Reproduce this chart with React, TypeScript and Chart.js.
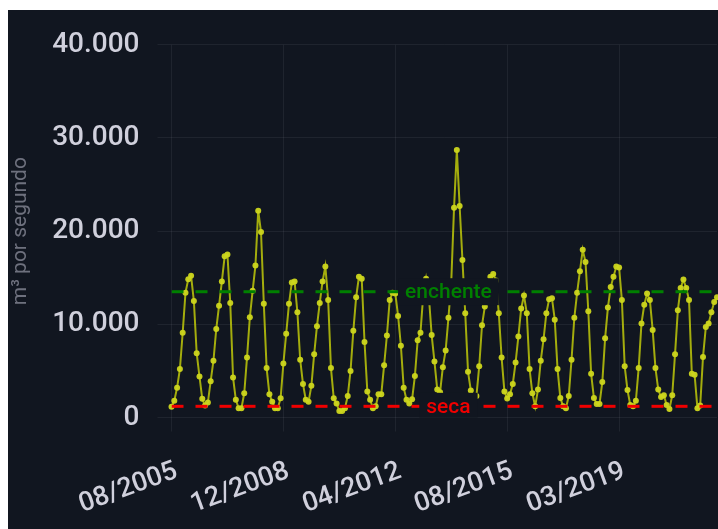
import React, { useEffect, useRef } from "react";
import { Chart, registerables } from "chart.js";

Chart.register(...registerables);

// ---------- data ----------
const START_YEAR = 2005;
const START_MONTH = 8;
const SKIPPED_MONTHS = ["06/2017", "07/2017", "08/2017"];
const POINT_COUNT = 196;
const TICK_LABELS = ["08/2005", "12/2008", "04/2012", "08/2015", "03/2019"];

const FLOW = [
  1160, 1800, 3200, 5200, 9100, 13400, 14850, 15200, 12500, 6900, 4400, 2000,
  1300, 1600, 3900, 6100, 9500, 12000, 14600, 17300, 17500, 12300, 4300, 1900,
  1000, 1000, 2600, 6450, 10750, 13600, 16300, 22200, 19900, 12200, 5300, 2500,
  1700, 1000, 1000, 2060, 5800, 9000, 12200, 14500, 14600, 11300, 6200, 3600,
  1900, 1700, 3400, 6800, 9800, 12300, 14600, 16200, 12600, 5300, 2060, 1500,
  700, 700, 1000, 2300, 5000, 9300, 12900, 15100, 14900, 8100, 2800, 1900,
  1000, 1200, 2500, 2500, 5600, 8800, 12600, 13400, 13300, 10900, 7700, 3200,
  1900, 1500, 1950, 4450, 8300, 9100, 13200, 14900, 13000, 8850, 6000, 3000,
  2700, 5400, 7200, 10700, 14500, 22500, 28700, 22700, 16900, 11200, 4900, 2900,
  2200, 2300, 5500, 9900, 11900, 14000, 15100, 15400, 14700, 11200, 6450, 2800,
  2050, 2500, 3600, 5900, 8700, 11700, 13100, 11200, 5200, 2600, 1200, 3000,
  6100, 8400, 11200, 12700, 12800, 10500, 5200, 2100, 1200, 1000, 2300, 6200,
  10700, 13400, 15700, 18000, 16700, 11400, 4700, 2100, 1450, 1450, 3800, 8500,
  11800, 14000, 15100, 16200, 16100, 12600, 5500, 2950, 1340, 1200, 1800, 5300,
  10100, 12100, 13300, 12600, 9400, 5300, 3000, 2200, 2400, 1340, 900, 2400,
  6800, 11500, 13900, 14800, 13900, 12600, 4700, 4600, 1000, 1300, 6500, 9700,
  10100, 11300, 12400, 12900,
];

const Y_MIN = 0;
const Y_MAX = 40000;
const Y_STEP = 10000;
const Y_TITLE = "m³ por segundo";

const FLOOD_LEVEL = 13500;
const FLOOD_LABEL = "enchente";
const DROUGHT_LEVEL = 1200;
const DROUGHT_LABEL = "seca";
const THRESHOLD_LABEL_INDEX = 99;

// ---------- style ----------
const BG = "#111620";
const TEXT = "#d0d0dc";
const GRID = "rgba(204,204,220,0.08)";
const LINE = "rgba(190,200,10,0.85)";
const POINT = "rgba(205,214,30,0.95)";
const GREEN = "rgb(0,128,0)";
const RED = "rgb(240,0,0)";

function buildMonths(): string[] {
  const out: string[] = [];
  let y = START_YEAR;
  let m = START_MONTH;
  while (out.length < POINT_COUNT) {
    const label = String(m).padStart(2, "0") + "/" + y;
    if (!SKIPPED_MONTHS.includes(label)) out.push(label);
    m++;
    if (m > 12) {
      m = 1;
      y++;
    }
  }
  return out;
}

const MONTHS = buildMonths();

function fmt(v: number): string {
  return String(Math.round(v)).replace(/\B(?=(\d{3})+(?!\d))/g, ".");
}

const thresholds = [
  { value: FLOOD_LEVEL, label: FLOOD_LABEL, color: GREEN },
  { value: DROUGHT_LEVEL, label: DROUGHT_LABEL, color: RED },
];

const thresholdPlugin = {
  id: "thresholds",
  afterDatasetsDraw(chart: any) {
    const { ctx, chartArea, scales } = chart;
    const xs = scales.x;
    const ys = scales.y;
    ctx.save();
    ctx.beginPath();
    ctx.rect(chartArea.left, chartArea.top, chartArea.right - chartArea.left, chartArea.bottom - chartArea.top);
    ctx.clip();
    ctx.lineWidth = 3;
    ctx.setLineDash([12, 12]);
    for (const t of thresholds) {
      const y = ys.getPixelForValue(t.value);
      ctx.strokeStyle = t.color;
      ctx.beginPath();
      ctx.moveTo(chartArea.left, y);
      ctx.lineTo(chartArea.right, y);
      ctx.stroke();
    }
    ctx.setLineDash([]);
    ctx.font = "500 21px Roboto";
    ctx.textAlign = "center";
    ctx.textBaseline = "middle";
    for (const t of thresholds) {
      const y = ys.getPixelForValue(t.value);
      const cx = xs.getPixelForValue(THRESHOLD_LABEL_INDEX);
      const w = ctx.measureText(t.label).width;
      ctx.fillStyle = BG;
      ctx.fillRect(cx - w / 2 - 7, y - 13.5, w + 14, 27);
      ctx.fillStyle = t.color;
      ctx.fillText(t.label, cx, y + 1);
    }
    ctx.restore();
  },
};

export default function App() {
  const ref = useRef<HTMLCanvasElement | null>(null);

  useEffect(() => {
    if (!ref.current) return;
    Chart.defaults.font.family = "Roboto";
    const chart = new Chart(ref.current, {
      type: "line",
      data: {
        labels: MONTHS,
        datasets: [
          {
            data: FLOW,
            borderColor: LINE,
            borderWidth: 2,
            pointRadius: 3,
            pointBackgroundColor: POINT,
            pointBorderColor: POINT,
            pointBorderWidth: 0,
            tension: 0,
          },
        ],
      },
      options: {
        responsive: false,
        animation: false,
        devicePixelRatio: 1,
        layout: { padding: { top: 34.5, right: 1, left: 0, bottom: 0 } },
        plugins: { legend: { display: false }, tooltip: { enabled: false } },
        scales: {
          x: {
            type: "category",
            grid: { color: GRID, tickLength: 14, drawTicks: true },
            border: { display: false },
            ticks: {
              autoSkip: false,
              minRotation: 20,
              maxRotation: 20,
              padding: 24,
              labelOffset: 5,
              color: TEXT,
              font: { size: 27, weight: "500" },
              callback: function (this: any, value: any) {
                const l = this.getLabelForValue(value);
                return TICK_LABELS.includes(l) ? l : null;
              },
            },
            afterFit: (scale: any) => {
              scale.height = 111.5;
            },
          },
          y: {
            min: Y_MIN,
            max: Y_MAX,
            grid: { color: GRID, tickLength: 14, drawTicks: true },
            border: { display: false },
            ticks: {
              stepSize: Y_STEP,
              padding: 18,
              color: TEXT,
              font: { size: 28, weight: "500" },
              callback: (v: any) => fmt(Number(v)),
            },
            title: {
              display: true,
              text: Y_TITLE,
              color: "rgba(204,204,220,0.5)",
              font: { size: 21 },
              padding: 0,
            },
            afterFit: (scale: any) => {
              scale.width = 163.5;
            },
          },
        },
      },
      plugins: [thresholdPlugin],
    });
    return () => chart.destroy();
  }, []);

  return (
    <div
      style={{
        position: "fixed",
        left: 8,
        top: 10,
        width: 710,
        height: 519,
        overflow: "hidden",
        background: BG,
      }}
    >
      <canvas ref={ref} width={713} height={519} style={{ display: "block" }} />
    </div>
  );
}
